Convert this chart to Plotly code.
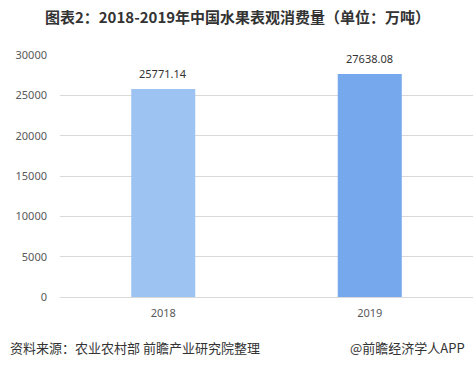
import plotly.graph_objects as go

categories = ["2018", "2019"]
values = [25771.14, 27638.08]
value_labels = ["25771.14", "27638.08"]
bar_colors = ["#9DC3F2", "#75A8EC"]
y_ticks = [0, 5000, 10000, 15000, 20000, 25000, 30000]

fig = go.Figure()
fig.add_trace(go.Bar(
    x=categories, y=values, width=0.31,
    marker=dict(color=bar_colors, line=dict(width=0)),
))

for i, (v, t) in enumerate(zip(values, value_labels)):
    fig.add_annotation(
        x=i, y=v, text=t, showarrow=False, yanchor="bottom", yshift=6,
        font=dict(family="Noto Sans, DejaVu Sans", size=11, color="#333333"),
    )

fig.update_layout(
    width=475, height=367,
    margin=dict(l=60, r=2, t=55, b=70),
    paper_bgcolor="white", plot_bgcolor="white",
    showlegend=False,
    title=dict(
        text="<b>图表2：2018-2019年中国水果表观消费量（单位：万吨）</b>",
        x=0.5, xanchor="center", y=1 - 18 / 367, yanchor="middle",
        font=dict(family="Noto Sans CJK SC", size=15, color="#333333"),
    ),
    xaxis=dict(
        type="category", range=[-0.5, len(categories) - 0.5],
        showgrid=False, showline=False, ticks="", ticklabelstandoff=8,
        tickfont=dict(family="Noto Sans, DejaVu Sans", size=11, color="#595959"),
    ),
    yaxis=dict(
        range=[0, 30000], tickvals=y_ticks, ticktext=[str(v) for v in y_ticks],
        showgrid=True, gridcolor="#D9D9D9", gridwidth=1,
        zeroline=True, zerolinecolor="#D9D9D9", zerolinewidth=1,
        showline=False, ticks="", ticklabelstandoff=12,
        tickfont=dict(family="Noto Sans, DejaVu Sans", size=11, color="#595959"),
    ),
    font=dict(family="Noto Sans CJK SC"),
)

fig.add_annotation(
    text="资料来源：农业农村部 前瞻产业研究院整理", xref="paper", yref="paper",
    x=-52 / 413, y=-(347 - 297) / 242, xanchor="left", yanchor="middle",
    showarrow=False, font=dict(family="Noto Sans CJK SC", size=13, color="#333333"),
)
fig.add_annotation(
    text="@前瞻经济学人APP", xref="paper", yref="paper",
    x=1.0 - 6 / 413, y=-(347 - 297) / 242, xanchor="right", yanchor="middle",
    showarrow=False, font=dict(family="Noto Sans CJK SC", size=13, color="#333333"),
)

fig.write_html("out.html")
